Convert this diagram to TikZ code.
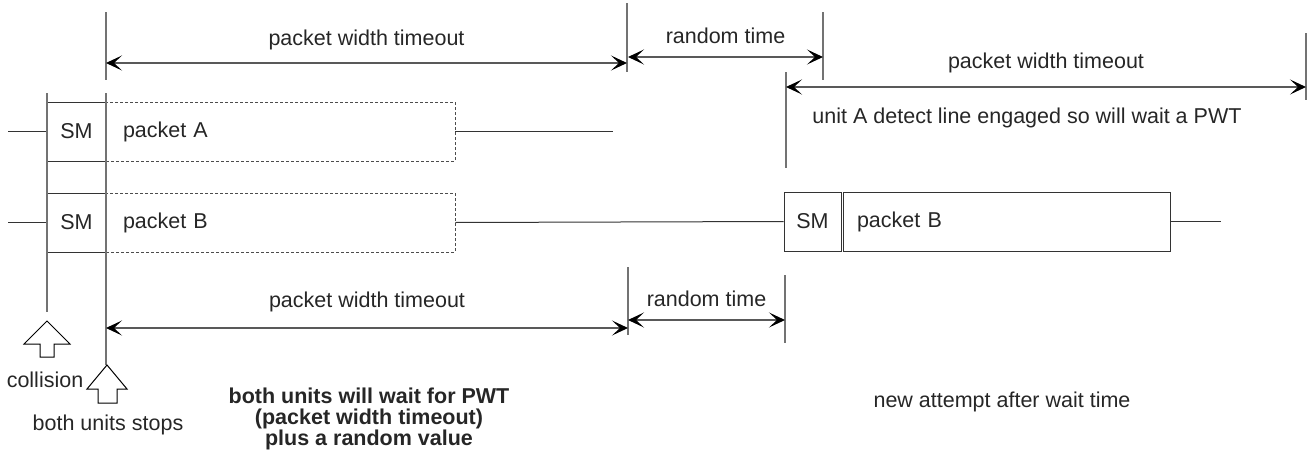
\documentclass[tikz,border=0pt]{standalone}
\usepackage{fontspec}
\setmainfont{Liberation Sans}
\usetikzlibrary{arrows.meta}
\tikzset{
  lbl/.style={font=\fontsize{21.5}{25}\selectfont, text=black!85, inner sep=0pt},
  boldlbl/.style={lbl, font=\fontsize{21.5}{21}\selectfont\bfseries, align=center},
  smbox/.style={lbl, draw=black!80, line width=1pt, minimum width=59pt, minimum height=59pt},
  pktbox/.style={lbl, draw=black!70, densely dashed, line width=0.6pt, minimum height=59pt,
    inner xsep=17pt, align=left},
  newpkt/.style={lbl, draw=black!80, line width=1pt, minimum height=59pt,
    inner xsep=14pt, align=left},
  wire/.style={draw=black!80, line width=1pt},
  tick/.style={draw=black!55, line width=1.4pt},
  dim/.style={draw=black!65, line width=1.2pt,
    {Stealth[length=16pt,width=15pt,inset=8pt,black]}-{Stealth[length=16pt,width=15pt,inset=8pt,black]}},
  hollow/.style={draw=black, line width=1pt, fill=white}
}
\begin{document}
\begin{tikzpicture}[x=1pt, y=-1pt]
   \useasboundingbox (0,0) rectangle (1312,458);

   % boxes
   \node[smbox] (smA) at (76.5,131.5) {SM};
   \node[pktbox, text width=315pt] (pktA) at (280.5,131.5) {packet A};
   \node[smbox] (smB) at (76.5,222.5) {SM};
   \node[pktbox, text width=315pt] (pktB) at (280.5,222.5) {packet B};
   \node[smbox, minimum width=57pt] (smB2) at (812.5,221.5) {SM};
   \node[newpkt, text width=299pt] (pktB2) at (1006.5,221.5) {packet B};

   % time lines
   \coordinate (a0) at (8,131.5);
   \coordinate (a1) at (613,131.5);
   \coordinate (b0) at (8,222.5);
   \coordinate (b1) at (1221,221.5);
   \draw[wire] (a0) -- (smA.west);
   \draw[wire] (pktA.east) -- (a1);
   \draw[wire] (b0) -- (smB.west);
   \draw[wire] (pktB.east) -- (smB2.west);
   \draw[wire] (pktB2.east) -- (b1);

   % markers
   \coordinate (c0) at (47,93);      \coordinate (c1) at (47,312);
   \coordinate (s0) at (106,12);     \coordinate (s1) at (106,80);
   \coordinate (s2) at (106,93);     \coordinate (s3) at (106,365);
   \coordinate (t0) at (627,3);      \coordinate (t1) at (627,72);
   \coordinate (r0) at (823,12);     \coordinate (r1) at (823,80);
   \coordinate (u0) at (786,72);     \coordinate (u1) at (786,168);
   \coordinate (e0) at (1306,33);    \coordinate (e1) at (1306,100);
   \coordinate (v0) at (628,267);    \coordinate (v1) at (628,335);
   \coordinate (w0) at (785,275);    \coordinate (w1) at (785,343);
   \draw[tick] (c0) -- (c1);
   \draw[tick] (s0) -- (s1);
   \draw[tick] (s2) -- (s3);
   \draw[tick] (t0) -- (t1);
   \draw[tick] (r0) -- (r1);
   \draw[tick] (u0) -- (u1);
   \draw[tick] (e0) -- (e1);
   \draw[tick] (v0) -- (v1);
   \draw[tick] (w0) -- (w1);

   % timeouts
   \draw[dim] (106,63) -- node[lbl, above=12pt] (pwt1) {packet width timeout} (627,63);
   \draw[dim] (628,57) -- node[lbl, above=13pt] (rnd1) {random time} (823,57);
   \draw[dim] (786,87) -- node[lbl, above=13pt] (pwt2) {packet width timeout} (1306,87);
   \draw[dim] (106,328) -- node[lbl, above=15pt] (pwt3) {packet width timeout} (628,328);
   \draw[dim] (628,320) -- node[lbl, above=13pt] (rnd2) {random time} (785,320);

   \node[lbl] (engaged) at (1027,118) {unit A detect line engaged so will wait a PWT};

   % events
   \draw[hollow] (47,321) -- ++(23,23) -- ++(-16,0) -- ++(0,13) -- ++(-14,0)
      -- ++(0,-13) -- ++(-16,0) -- cycle;
   \draw[hollow] (107,365) -- ++(20,24) -- ++(-10,0) -- ++(0,14) -- ++(-19,0)
      -- ++(0,-14) -- ++(-11,0) -- cycle;
   \node[lbl] (coll) at (45,380) {collision};
   \node[lbl] (stops) at (108,425) {both units stops};
   \node[boldlbl] (note) at (369,419) {both units will wait for PWT\\(packet width timeout)\\plus a random value};
   \node[lbl] (retry) at (1002,402) {new attempt after wait time};
\end{tikzpicture}
\end{document}
